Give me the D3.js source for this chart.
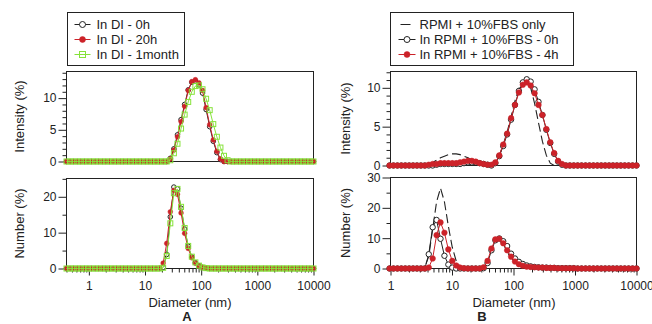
<!DOCTYPE html>
<html>
<head>
<meta charset="utf-8">
<script src="https://cdn.jsdelivr.net/npm/d3@7"></script>
<style>
body { margin:0; background:#fff; }
svg { display:block; font-family:"Liberation Sans", Arial, Helvetica, sans-serif; }
</style>
</head>
<body>
<div id="chart-container"></div>
<script>
// size bins of the instrument (nm)
const bins = [
  0.4, 0.4632, 0.5365, 0.6213, 0.7195, 0.8332, 0.9649, 1.117, 1.294, 1.499,
  1.736, 2.010, 2.328, 2.696, 3.122, 3.615, 4.187, 4.849, 5.615, 6.503,
  7.531, 8.721, 10.10, 11.70, 13.54, 15.69, 18.17, 21.04, 24.36, 28.21,
  32.67, 37.84, 43.82, 50.75, 58.77, 68.06, 78.82, 91.28, 105.7, 122.4,
  141.8, 164.2, 190.1, 220.2, 255.0, 295.3, 342.0, 396.1, 458.7, 531.2,
  615.1, 712.4, 825.0, 955.4, 1106, 1281, 1484, 1718, 1990, 2305,
  2669, 3091, 3580, 4145, 4801, 5560, 6439, 7456, 8635, 10000
];

// panel A - intensity (%)
const aInt0h = [
  0,0,0,0,0,0,0,0,0,0,  0,0,0,0,0,0,0,0,0,0,
  0,0,0,0,0,0,0,0,0,0.5,
  2.0,4.2,6.6,9.0,11.3,12.5,12.7,12.1,10.8,8.2,
  5.5,3.2,1.4,0.3,0,0,0,0,0,0,
  0,0,0,0,0,0,0,0,0,0,  0,0,0,0,0,0,0,0,0,0
];
const aInt20h = [
  0,0,0,0,0,0,0,0,0,0,  0,0,0,0,0,0,0,0,0,0,
  0,0,0,0,0,0,0,0,0,0.4,
  1.8,3.9,6.3,8.7,11.2,12.6,12.9,12.4,11.2,8.5,
  5.8,3.4,1.6,0.4,0,0,0,0,0,0,
  0,0,0,0,0,0,0,0,0,0,  0,0,0,0,0,0,0,0,0,0
];
const aInt1month = [
  0,0,0,0,0,0,0,0,0,0,  0,0,0,0,0,0,0,0,0,0,
  0,0,0,0,0,0,0,0,0,0.2,
  1.3,2.8,5.2,7.4,9.4,11.0,11.9,12.0,11.4,9.9,
  8.1,5.9,3.9,2.2,0.9,0.2,0,0,0,0,
  0,0,0,0,0,0,0,0,0,0,  0,0,0,0,0,0,0,0,0,0
];

// panel A - number (%)
const aNum0h = [
  0,0,0,0,0,0,0,0,0,0,  0,0,0,0,0,0,0,0,0,0,
  0,0,0,0,0,0,0,0.3,3.9,14.4,
  22.7,22.2,16.8,11.0,6.2,3.2,1.6,0.8,0.3,0.1,
  0,0,0,0,0,0,0,0,0,0,
  0,0,0,0,0,0,0,0,0,0,  0,0,0,0,0,0,0,0,0,0
];
const aNum20h = [
  0,0,0,0,0,0,0,0,0,0,  0,0,0,0,0,0,0,0,0,0,
  0,0,0,0,0,0,0.1,1.5,7.0,15.8,
  21.8,20.7,15.5,9.8,5.6,3.0,1.5,0.7,0.3,0.1,
  0,0,0,0,0,0,0,0,0,0,
  0,0,0,0,0,0,0,0,0,0,  0,0,0,0,0,0,0,0,0,0
];
const aNum1month = [
  0,0,0,0,0,0,0,0,0,0,  0,0,0,0,0,0,0,0,0,0,
  0,0,0,0,0,0,0,0.2,3.5,12.6,
  21.0,22.2,17.2,11.3,6.3,3.3,1.7,0.8,0.3,0.1,
  0,0,0,0,0,0,0,0,0,0,
  0,0,0,0,0,0,0,0,0,0,  0,0,0,0,0,0,0,0,0,0
];

// panel B - intensity (%)
const bIntSerum = [
  0,0,0,0,0,0,0,0,0,0,
  0,0,0,0,0,0,0.2,0.4,0.7,1.0,
  1.2,1.4,1.5,1.5,1.4,1.2,1.0,0.7,0.5,0.3,
  0.1,0,0,0.3,1.3,2.7,4.3,6.3,8.3,9.9,
  10.9,11.0,10.0,8.0,5.5,3.1,1.3,0.3,0,0,
  0,0,0,0,0,0,0,0,0,0,  0,0,0,0,0,0,0,0,0,0
];
const bInt0h = [
  0,0,0,0,0,0,0,0,0,0,
  0,0,0,0,0,0,0,0,0.1,0.2,
  0.2,0.2,0.2,0.2,0.2,0.3,0.4,0.4,0.4,0.3,
  0.2,0.1,0,0.3,1.2,2.5,4.0,5.9,7.8,9.6,
  10.7,11.1,10.8,9.8,8.2,6.5,4.6,2.9,1.5,0.5,
  0.1,0,0,0,0,0,0,0,0,0,  0,0,0,0,0,0,0,0,0,0
];
const bInt4h = [
  0,0,0,0,0,0,0,0,0,0,
  0,0,0,0,0,0,0.1,0.2,0.2,0.3,
  0.3,0.3,0.3,0.3,0.4,0.5,0.6,0.6,0.5,0.3,
  0.2,0.1,0.1,0.4,1.3,2.7,4.1,6.1,7.8,9.4,
  10.4,10.7,10.3,9.3,7.8,6.5,4.7,3.0,1.6,0.6,
  0.2,0,0,0,0,0,0,0,0,0,  0,0,0,0,0,0,0,0,0,0
];

// panel B - number (%)
const bNumSerum = [
  0,0,0,0,0,0,0,0,0,0,
  0,0,0,0,0,0.5,4.0,13.0,22.0,26.5,
  22.0,14.0,7.0,2.5,0.6,0.1,0,0,0,0,
  0,0,0,0,0,0,0,0,0,0,  0,0,0,0,0,0,0,0,0,0,
  0,0,0,0,0,0,0,0,0,0,  0,0,0,0,0,0,0,0,0,0
];
const bNum0h = [
  0,0,0,0,0,0,0,0,0,0,
  0,0,0,0,0,0,4.7,13.6,16.0,9.8,
  4.2,1.3,0.3,0,0,0,0,0,0,0,
  0.1,1.8,6.0,9.3,9.9,9.0,7.4,4.9,3.3,2.2,
  1.5,1.0,0.7,0.5,0.4,0.3,0.3,0.2,0.2,0.1,
  0.1,0.1,0.1,0.1,0,0,0,0,0,0,  0,0,0,0,0,0,0,0,0,0
];
const bNum4h = [
  0,0,0,0,0,0,0,0,0,0,
  0,0,0,0,0,0,0.3,3.3,11.0,15.2,
  11.8,6.3,2.5,1.0,0.3,0.1,0,0,0,0,
  0.4,2.5,6.6,9.6,9.8,8.3,6.0,3.9,2.3,1.4,
  0.9,0.6,0.5,0.4,0.3,0.3,0.2,0.2,0.2,0.1,
  0.1,0.1,0.1,0.1,0,0,0,0,0,0,  0,0,0,0,0,0,0,0,0,0
];

// tick labels
const xTickValues = [1, 10, 100, 1000, 10000];
const legendA = ["In DI - 0h", "In DI - 20h", "In DI - 1month"];
const legendB = ["RPMI + 10%FBS only", "In RPMI + 10%FBS - 0h", "In RPMI + 10%FBS - 4h"];

const red = "#cc2229";
const green = "#86e23a";
const ink = "#222";

const svg = d3.select("#chart-container")
  .append("svg")
  .attr("width", 652)
  .attr("height", 324);

// draw one marker of a given kind into a group
function marker(g, kind, cx, cy, r) {
  if (kind === "open") {
    g.append("circle").attr("cx", cx).attr("cy", cy).attr("r", r)
      .attr("fill", "#fff").attr("stroke", ink).attr("stroke-width", 1);
  } else if (kind === "dot") {
    g.append("circle").attr("cx", cx).attr("cy", cy).attr("r", r)
      .attr("fill", red).attr("stroke", red).attr("stroke-width", 0.5);
  } else if (kind === "square") {
    g.append("rect").attr("x", cx - r).attr("y", cy - r)
      .attr("width", 2 * r).attr("height", 2 * r)
      .attr("fill", "none").attr("stroke", green).attr("stroke-width", 1);
  }
}

function drawPanel(p) {
  const x = d3.scaleLog().domain(p.xDomain).range([p.left, p.right]);
  const y = d3.scaleLinear().domain([0, p.yMax]).range([p.bottom, p.top]);
  const g = svg.append("g");

  // frame
  g.append("rect")
    .attr("x", p.left).attr("y", p.top)
    .attr("width", p.right - p.left).attr("height", p.bottom - p.top)
    .attr("fill", "none").attr("stroke", ink).attr("stroke-width", 1);

  // y axis, major + minor ticks
  const major = d3.range(0, p.yMax + 0.001, p.yStep);
  const minor = d3.range(0, p.yMax + 0.001, p.yMinor).filter(v => major.indexOf(v) < 0);
  g.append("g")
    .attr("transform", `translate(${p.left},0)`)
    .call(d3.axisLeft(y).tickValues(minor).tickSize(4).tickFormat(""))
    .call(a => a.select(".domain").remove())
    .selectAll(".tick line").attr("stroke", ink);
  g.append("g")
    .attr("transform", `translate(${p.left},0)`)
    .style("font-size", "12px")
    .call(d3.axisLeft(y).tickValues(major).tickSize(8).tickPadding(2).tickFormat(d3.format("d")))
    .call(a => a.select(".domain").remove())
    .call(a => a.selectAll(".tick line").attr("stroke", ink))
    .selectAll(".tick text").attr("fill", ink).style("font-family", "inherit");

  // x axis only under the lower panels
  if (p.showX) {
    const minorX = x.ticks().filter(v => xTickValues.indexOf(v) < 0);
    g.append("g")
      .attr("transform", `translate(0,${p.bottom})`)
      .call(d3.axisBottom(x).tickValues(minorX).tickSize(4).tickFormat(""))
      .call(a => a.select(".domain").remove())
      .selectAll(".tick line").attr("stroke", ink);
    g.append("g")
      .attr("transform", `translate(0,${p.bottom})`)
      .style("font-size", "12px")
      .call(d3.axisBottom(x).tickValues(xTickValues).tickSize(7).tickPadding(6).tickFormat(d3.format("d")))
      .call(a => a.select(".domain").remove())
      .call(a => a.selectAll(".tick line").attr("stroke", ink))
      .selectAll(".tick text").attr("fill", ink).style("font-family", "inherit");
  }

  // y label
  g.append("text")
    .attr("transform", `translate(${p.labelX},${(p.top + p.bottom) / 2}) rotate(-90)`)
    .attr("text-anchor", "middle")
    .attr("dy", "0.35em")
    .style("font-size", "13px")
    .attr("fill", ink)
    .text(p.yLabel);

  // series
  const line = d3.line().x(d => x(d.d)).y(d => y(d.v));
  p.series.forEach(s => {
    const pts = bins.map((d, i) => ({d: d, v: s.values[i]}))
      .filter(pt => pt.d >= p.xDomain[0] * 0.95 && pt.d <= p.xDomain[1] * 1.01);
    g.append("path")
      .datum(pts)
      .attr("fill", "none")
      .attr("stroke", s.color)
      .attr("stroke-width", s.dash ? 1.1 : 1)
      .attr("stroke-dasharray", s.dash || null)
      .attr("d", line);
    if (s.marker) {
      const mg = g.append("g");
      pts.forEach(pt => marker(mg, s.marker, x(pt.d), y(pt.v), s.r));
    }
  });
}

function drawLegend(l) {
  const g = svg.append("g");
  g.append("rect")
    .attr("x", l.x).attr("y", l.y).attr("width", l.w).attr("height", l.h)
    .attr("fill", "#fff").attr("stroke", ink).attr("stroke-width", 1);
  l.items.forEach((it, i) => {
    const cy = l.y + 12 + i * 15;
    const x0 = l.x + l.symX0, x1 = l.x + l.symX1;
    g.append("line")
      .attr("x1", it.dash ? x0 + 2 : x0).attr("x2", it.dash ? x1 - 5 : x1)
      .attr("y1", cy).attr("y2", cy)
      .attr("stroke", it.color).attr("stroke-width", 1);
    if (it.marker) marker(g, it.marker, (x0 + x1) / 2, cy, 3);
    g.append("text")
      .attr("x", l.x + l.textX).attr("y", cy).attr("dy", "0.36em")
      .style("font-size", "13px")
      .attr("fill", ink)
      .text(it.label);
  });
}

const aSeriesInt = [
  {values: aInt0h, color: ink, marker: "open", r: 2.3},
  {values: aInt20h, color: red, marker: "dot", r: 2.4},
  {values: aInt1month, color: green, marker: "square", r: 2.5}
];
const aSeriesNum = [
  {values: aNum0h, color: ink, marker: "open", r: 2.3},
  {values: aNum20h, color: red, marker: "dot", r: 2.4},
  {values: aNum1month, color: green, marker: "square", r: 2.5}
];
const bSeriesInt = [
  {values: bIntSerum, color: ink, dash: "9,4"},
  {values: bInt0h, color: ink, marker: "open", r: 2.7},
  {values: bInt4h, color: red, marker: "dot", r: 2.8}
];
const bSeriesNum = [
  {values: bNumSerum, color: ink, dash: "9,4"},
  {values: bNum0h, color: ink, marker: "open", r: 2.7},
  {values: bNum4h, color: red, marker: "dot", r: 2.8}
];

drawPanel({left: 66.5, right: 313.5, top: 71.5, bottom: 161.5, xDomain: [0.4, 10000],
  yMax: 14.2, yStep: 5, yMinor: 1, showX: false, labelX: 19, yLabel: "Intensity (%)", series: aSeriesInt});
drawPanel({left: 66.5, right: 313.5, top: 178.5, bottom: 268.5, xDomain: [0.4, 10000],
  yMax: 25.1, yStep: 10, yMinor: 5, showX: true, labelX: 19, yLabel: "Number (%)", series: aSeriesNum});
drawPanel({left: 390.5, right: 636.5, top: 71.5, bottom: 165.5, xDomain: [1, 10000],
  yMax: 12.1, yStep: 5, yMinor: 1, showX: false, labelX: 345, yLabel: "Intensity (%)", series: bSeriesInt});
drawPanel({left: 390.5, right: 636.5, top: 177.5, bottom: 268.5, xDomain: [1, 10000],
  yMax: 30, yStep: 10, yMinor: 5, showX: true, labelX: 345, yLabel: "Number (%)", series: bSeriesNum});

drawLegend({x: 67.5, y: 12.5, w: 117, h: 53, symX0: 7, symX1: 23, textX: 29,
  items: [
    {label: legendA[0], color: ink, marker: "open"},
    {label: legendA[1], color: red, marker: "dot"},
    {label: legendA[2], color: green, marker: "square"}
  ]});
drawLegend({x: 390.5, y: 12.5, w: 183, h: 53, symX0: 8, symX1: 25, textX: 29,
  items: [
    {label: legendB[0], color: ink, dash: true},
    {label: legendB[1], color: ink, marker: "open"},
    {label: legendB[2], color: red, marker: "dot"}
  ]});

// x titles and panel letters
[[190, "A", 187], [514, "B", 482]].forEach(([cx, letter, lx]) => {
  svg.append("text")
    .attr("x", cx).attr("y", 307)
    .attr("text-anchor", "middle")
    .style("font-size", "13px")
    .attr("fill", ink)
    .text("Diameter (nm)");
  svg.append("text")
    .attr("x", lx).attr("y", 321)
    .attr("text-anchor", "middle")
    .style("font-size", "13px")
    .style("font-weight", "bold")
    .attr("fill", ink)
    .text(letter);
});
</script>
</body>
</html>
